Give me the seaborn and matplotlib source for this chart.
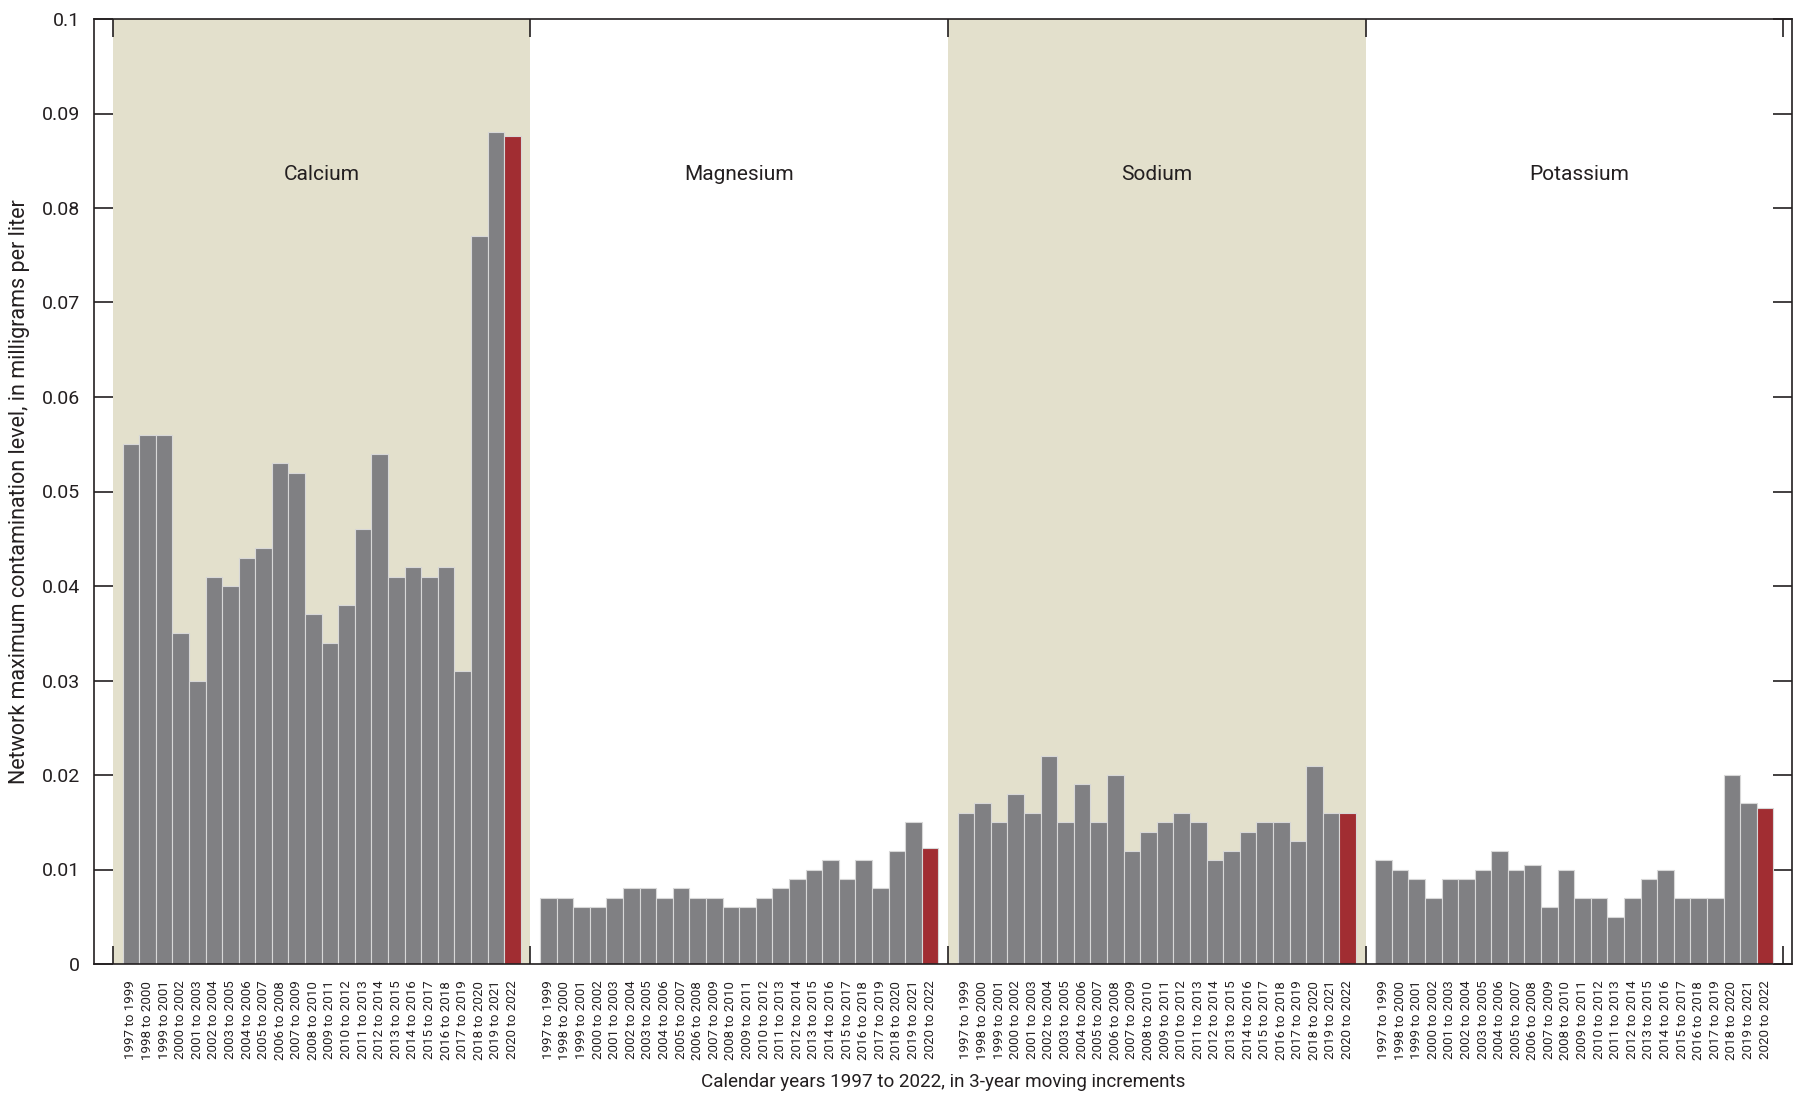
import matplotlib
matplotlib.use("Agg")
import matplotlib.pyplot as plt
from matplotlib import font_manager
import seaborn as sns
import numpy as np
import pandas as pd

# ---------------- data ----------------
periods = [f"{y} to {y + 2}" for y in range(1997, 2021)]
constituents = ["Calcium", "Magnesium", "Sodium", "Potassium"]
calcium = [0.055, 0.056, 0.056, 0.035, 0.030, 0.041, 0.040, 0.043, 0.044, 0.053, 0.052, 0.037,
           0.034, 0.038, 0.046, 0.054, 0.041, 0.042, 0.041, 0.042, 0.031, 0.077, 0.088, 0.0876]
magnesium = [0.007, 0.007, 0.006, 0.006, 0.007, 0.008, 0.008, 0.007, 0.008, 0.007, 0.007, 0.006,
             0.006, 0.007, 0.008, 0.009, 0.010, 0.011, 0.009, 0.011, 0.008, 0.012, 0.015, 0.0123]
sodium = [0.016, 0.017, 0.015, 0.018, 0.016, 0.022, 0.015, 0.019, 0.015, 0.020, 0.012, 0.014,
          0.015, 0.016, 0.015, 0.011, 0.012, 0.014, 0.015, 0.015, 0.013, 0.021, 0.016, 0.016]
potassium = [0.011, 0.010, 0.009, 0.007, 0.009, 0.009, 0.010, 0.012, 0.010, 0.0105, 0.006, 0.010,
             0.007, 0.007, 0.005, 0.007, 0.009, 0.010, 0.007, 0.007, 0.007, 0.020, 0.017, 0.0165]
series = [calcium, magnesium, sodium, potassium]
y_tick_values = [0, 0.01, 0.02, 0.03, 0.04, 0.05, 0.06, 0.07, 0.08, 0.09, 0.1]
y_tick_labels = ["0", "0.01", "0.02", "0.03", "0.04", "0.05", "0.06", "0.07", "0.08", "0.09", "0.1"]
x_label = "Calendar years 1997 to 2022, in 3-year moving increments"
y_label = "Network maximum contamination level, in milligrams per liter"

# ---------------- style ----------------
sns.set_style("white")
available = {f.name for f in font_manager.fontManager.ttflist}
family = [f for f in ["Liberation Sans Narrow", "DejaVu Sans Condensed", "Roboto", "DejaVu Sans"]
          if f in available] + ["DejaVu Sans"]
plt.rcParams["font.family"] = family

INK = "#231f20"
GRAY = "#7f8084"
RED = "#b41a21"
SHADE = "#e3e0cc"
EDGE = "#d8d8d8"

pad = 0.58
panel = len(periods) + 2 * pad

rows = []
for g, (name, vals) in enumerate(zip(constituents, series)):
    for i, (p, v) in enumerate(zip(periods, vals)):
        rows.append({"group": name, "period": p, "value": v,
                     "pos": g * panel + pad + i + 0.5,
                     "latest": i == len(periods) - 1})
df = pd.DataFrame(rows)

fig = plt.figure(figsize=(17.96, 11.02), dpi=100)
ax = fig.add_axes([94 / 1796, 1 - 964 / 1102, (1792 - 94) / 1796, (964 - 19) / 1102])

for g in (0, 2):
    ax.axvspan(g * panel, (g + 1) * panel, color=SHADE, zorder=0, lw=0)

sns.barplot(data=df, x="pos", y="value", hue="latest", palette={False: GRAY, True: RED},
            native_scale=True, width=1.0, dodge=False, legend=False,
            edgecolor=EDGE, linewidth=0.8, ax=ax, zorder=2, errorbar=None)

label_shift = [0.0, 0.0, 0.0, 0.3]
for g, name in enumerate(constituents):
    ax.text(g * panel + panel / 2 + label_shift[g], 0.0835, name, ha="center", va="center",
            fontsize=15, color=INK)

ax.set_xlim(-1.14, 4 * panel + 0.54)
ax.set_ylim(0, 0.1)
ax.set_yticks(y_tick_values)
ax.set_yticklabels(y_tick_labels, fontsize=14, color=INK)
ax.tick_params(axis="y", direction="in", length=14, width=1.2, right=True, left=True,
               pad=10, color=INK)

ax.set_xticks(df["pos"].to_numpy())
ax.set_xticklabels(df["period"], rotation=90, fontsize=9.6, color=INK)
ax.tick_params(axis="x", which="major", length=0, pad=12)
ax.set_xticks([g * panel for g in range(5)], minor=True)
ax.tick_params(axis="x", which="minor", direction="in", length=13, width=1.2,
               top=True, bottom=True, color=INK)

for s in ax.spines.values():
    s.set_visible(True)
    s.set_color(INK)
    s.set_linewidth(1.2)

ax.set_xlabel(x_label, fontsize=13.6, color=INK, va="center")
ax.xaxis.set_label_coords(0.5, (964 - 1082) / 945)
ax.set_ylabel(y_label, fontsize=15.5, color=INK, va="center")
ax.yaxis.set_label_coords((20 - 94) / 1698, 0.5)

fig.savefig("out.png", dpi=100)
